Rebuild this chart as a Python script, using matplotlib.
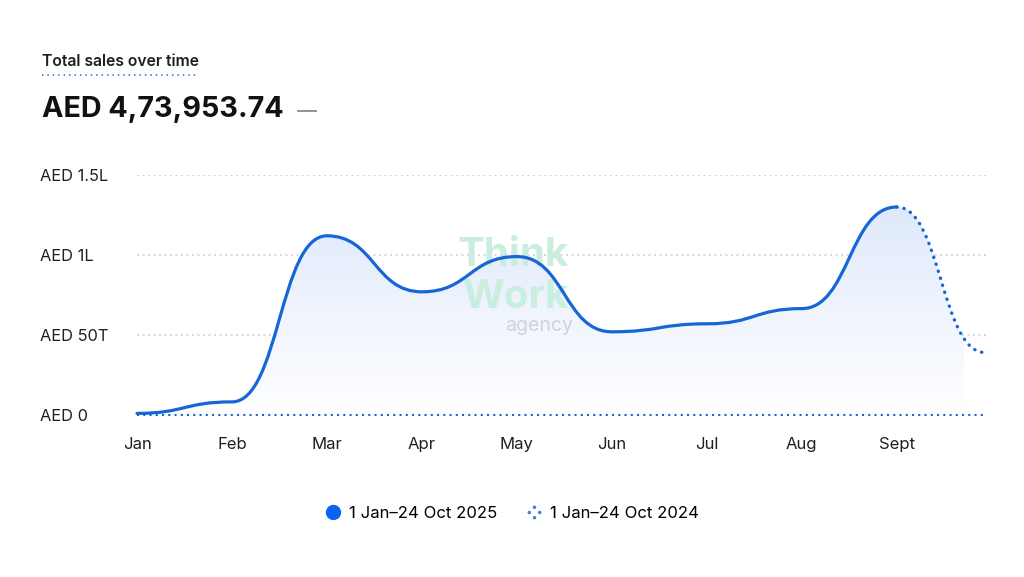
import numpy as np
import matplotlib
matplotlib.use("Agg")
import matplotlib.pyplot as plt
from matplotlib.path import Path
from matplotlib.patches import PathPatch
from matplotlib.lines import Line2D

plt.rcParams["font.family"] = ["Inter", "Roboto", "DejaVu Sans"]

# data (AED); x is month index from 1 Jan
months = ["Jan", "Feb", "Mar", "Apr", "May", "Jun", "Jul", "Aug", "Sept"]
month_pos = [0, 1, 2, 3, 4, 5, 6, 7, 8]
sales_2025 = [1000, 8200, 112000, 77000, 99000, 52000, 57000, 66500, 130000]
last_pos = 8.93          # 24 Oct
last_sales_2025 = 39000  # partial month, drawn dotted
pos_2024 = [0, 8.95]
sales_2024 = [0, 0]
y_ticks = [0, 50000, 100000, 150000]
y_labels = ["AED 0", "AED 50T", "AED 1L", "AED 1.5L"]
total_label = "AED 4,73,953.74"

BLUE = "#1766d6"
GRID = "#cccccc"
TEXT = "#1f1f1f"


def bump_x(x, y):
    # smooth curve with flat tangents at every point (like d3.curveBumpX)
    verts, codes = [(x[0], y[0])], [Path.MOVETO]
    for i in range(len(x) - 1):
        xm = (x[i] + x[i + 1]) / 2
        verts += [(xm, y[i]), (xm, y[i + 1]), (x[i + 1], y[i + 1])]
        codes += [Path.CURVE4] * 3
    return verts, codes


xs = month_pos + [last_pos]
ys = sales_2025 + [last_sales_2025]
verts, codes = bump_x(xs, ys)
n_solid = 1 + 3 * (len(month_pos) - 1)

fig = plt.figure(figsize=(10.24, 5.77), dpi=100)
fig.patch.set_facecolor("white")
ax = fig.add_axes([137 / 1024, 1 - 415 / 577, 850 / 1024, 240 / 577])
ax.set_xlim(0, 8.95)
ax.set_ylim(0, 150000)

# gradient area under the curve
fill_path = Path(verts + [(last_pos, 0), (0, 0), (0, 0)],
                 codes + [Path.LINETO, Path.LINETO, Path.CLOSEPOLY])
patch = PathPatch(fill_path, facecolor="none", edgecolor="none")
ax.add_patch(patch)
grad = np.linspace(0, 1, 256).reshape(-1, 1)
cmap = matplotlib.colors.LinearSegmentedColormap.from_list(
    "fade", ["#ffffff", "#dfe9fb"])
img = ax.imshow(grad, extent=[0, 8.7, 0, max(ys)], origin="lower",
                cmap=cmap, aspect="auto", zorder=1)
img.set_clip_path(patch)

# grid lines
for yt in y_ticks[1:]:
    ax.axhline(yt, color=GRID, lw=1.1, ls=(0, (1.3, 2.3)), zorder=0)

# watermark
ax.text(0.442, 0.665, "Think", transform=ax.transAxes, ha="center", va="center",
        fontsize=29, fontweight="bold", color="#c9eedd", zorder=2)
ax.text(0.445, 0.49, "Work", transform=ax.transAxes, ha="center", va="center",
        fontsize=29, fontweight="bold", color="#c9eedd", zorder=2)
ax.text(0.473, 0.37, "agency", transform=ax.transAxes, ha="center", va="center",
        fontsize=14, color="#d2d2da", zorder=2)

# 2024 comparison line
ax.plot(pos_2024, sales_2024, color=BLUE, lw=1.5, ls=(0, (1, 2.0)),
        clip_on=False, zorder=3)

# 2025 line: solid up to Sept, dotted for the partial month
solid = Path(verts[:n_solid], codes[:n_solid])
ax.add_patch(PathPatch(solid, facecolor="none", edgecolor=BLUE, lw=2.3,
                       capstyle="round", clip_on=False, zorder=4))
dotted = Path([verts[n_solid - 1]] + verts[n_solid:],
              [Path.MOVETO] + codes[n_solid:])
ax.add_patch(PathPatch(dotted, facecolor="none", edgecolor=BLUE, lw=2.4,
                       ls=(0, (0.1, 2.1)), capstyle="round", clip_on=False,
                       zorder=4))

# axes styling
for s in ax.spines.values():
    s.set_visible(False)
ax.set_xticks(month_pos)
ax.set_xticklabels(months, fontsize=12, color=TEXT)
ax.tick_params(axis="x", length=0, pad=16)
ax.set_yticks(y_ticks)
ax.set_yticklabels(y_labels, fontsize=11.8, color=TEXT, ha="left")
ax.tick_params(axis="y", length=0, pad=70)

# header
fig.text(42 / 1024, 1 - 61 / 577, "Total sales over time", fontsize=11.3,
         fontweight="semibold", color=TEXT, ha="left", va="center")
fig.add_artist(Line2D([42 / 1024, 197 / 1024], [1 - 75 / 577] * 2,
                      color="#3f7fe0", lw=1.3, ls=(0, (0.8, 2.2))))
fig.text(42 / 1024, 1 - 110 / 577, total_label, fontsize=20.7,
         fontweight="bold", color="#111111", ha="left", va="center")
fig.add_artist(Line2D([298 / 1024, 316 / 1024], [1 - 111 / 577] * 2,
                      color="#8a8a8a", lw=1.3))

# legend
dots = Path.make_compound_path(*[
    Path.circle(c, 0.2) for c in [(0, 1), (1, 0), (0, -1), (-1, 0)]])
handles = [
    Line2D([], [], ls="none", marker="o", markersize=10, color="#0b62f0"),
    Line2D([], [], ls="none", marker=dots, markersize=9, color="#3f7fe0"),
]
fig.legend(handles, ["1 Jan\u201324 Oct 2025", "1 Jan\u201324 Oct 2024"],
           loc="center", bbox_to_anchor=(0.5, 1 - 513 / 577), ncol=2,
           frameon=False, fontsize=12, handletextpad=0.45,
           columnspacing=1.7, handlelength=1.0)

fig.savefig("out.png", dpi=100, facecolor="white")
